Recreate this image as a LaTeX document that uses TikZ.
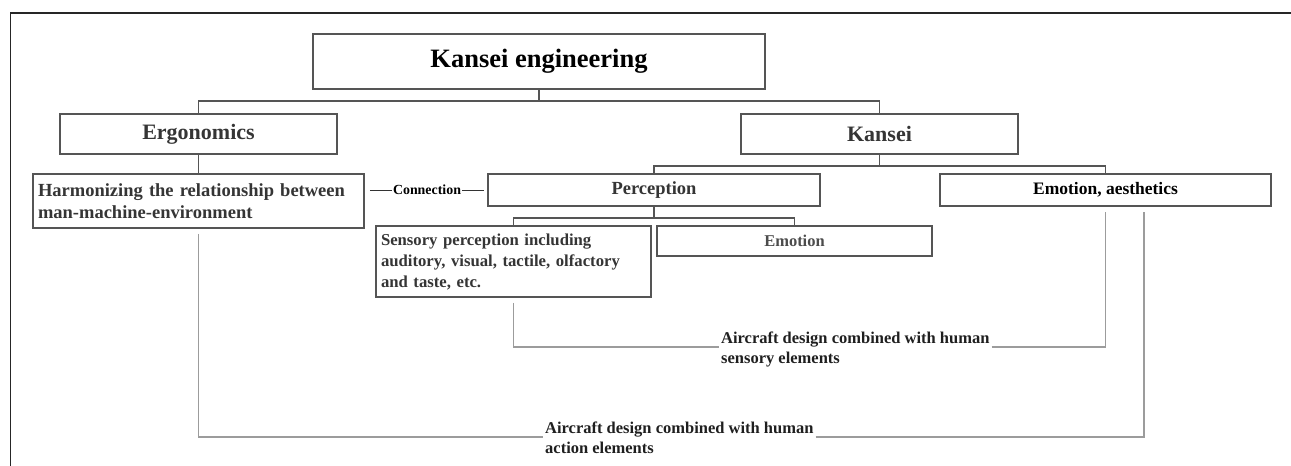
\documentclass[tikz,border=0pt]{standalone}
\usepackage{fontspec}
\setmainfont{Liberation Serif}
\usetikzlibrary{positioning}
\definecolor{boxline}{HTML}{555555}
\definecolor{boxtext}{HTML}{353535}
\definecolor{thinline}{HTML}{9C9C9C}

\begin{document}
\begin{tikzpicture}[x=1pt, y=-1pt,
    box/.style={draw=boxline, line width=1.8pt, inner sep=0pt, text=boxtext},
    tree/.style={draw=boxline, line width=1.5pt},
    link/.style={draw=thinline, line width=1.4pt},
    note/.style={font=\bfseries\fontsize{16.5}{20}\selectfont, text=black!88, align=left, inner sep=2pt}]
    \useasboundingbox (0,0) rectangle (1291,466);
    % frame
    \draw[line width=1.4pt, black!85] (1291,13) -- (10.5,13) -- (10.5,466);
    % boxes
    \node[box, minimum width=452pt, minimum height=55pt, text=black, font=\bfseries\fontsize{26.5}{31}\selectfont] (ke) at (539,61.5) {Kansei engineering};
    \node[box, minimum width=277pt, minimum height=40pt, font=\bfseries\fontsize{22}{26}\selectfont] (ergo) at (198.5,134) {Ergonomics};
    \node[box, minimum width=277pt, minimum height=40pt, font=\bfseries\fontsize{22}{26}\selectfont] (kansei) at (879.5,134) {Kansei};
    \node[box, minimum width=331pt, minimum height=54pt, text width=321pt, inner xsep=5pt, align=left, font=\bfseries\fontsize{18.5}{22}\selectfont] (harm) at (198.5,201) {Harmonizing the relationship between\\man-machine-environment};
    \node[box, minimum width=332pt, minimum height=32pt, font=\bfseries\fontsize{18.5}{22}\selectfont] (perc) at (654,190) {Perception};
    \node[box, minimum width=331pt, minimum height=32pt, text=black, font=\bfseries\fontsize{17.5}{21}\selectfont] (ea) at (1105.5,190) {Emotion, aesthetics};
    \node[box, minimum width=275pt, minimum height=71pt, text width=265pt, inner xsep=5pt, align=left, font=\bfseries\fontsize{16.7}{21}\selectfont] (sens) at (513.5,261.5) {Sensory perception including\\auditory, visual, tactile, olfactory\\and taste, etc.};
    \node[box, minimum width=275pt, minimum height=30pt, text=black!70, font=\bfseries\fontsize{16.5}{20}\selectfont] (emo) at (794.5,241) {Emotion};
    % tree
    \draw[tree] (ke.south) -- ++(0,11) coordinate (kej);
    \draw[tree] (ergo.north) |- (kej) -| (kansei.north);
    \draw[tree] (ergo.south) -- (harm.north);
    \draw[tree] (kansei.south) -- ++(0,11) coordinate (kaj);
    \draw[tree] (perc.north) |- (kaj) -| (ea.north);
    \draw[tree] (perc.south) -- ++(0,11) coordinate (pej);
    \draw[tree] (sens.north) |- (pej) -| (emo.north);
    \draw[line width=1pt, black!80] ([xshift=5pt]harm.east |- perc.west) -- node[fill=white, inner sep=1pt, text=black, font=\bfseries\fontsize{13.9}{16}\selectfont] (conn) {Connection} ([xshift=-3pt]perc.west);
    % design elements
    \node[note, anchor=west] (senstxt) at (719,349) {Aircraft design combined with human\\sensory elements};
    \node[note, anchor=west] (acttxt) at (543,438) {Aircraft design combined with human\\action elements};
    \draw[link] ([yshift=-5pt]sens.south) |- ([yshift=2pt]senstxt.west);
    \draw[link] ([yshift=2pt]senstxt.east) -| ([yshift=-5pt]ea.south);
    \draw[link] ([yshift=-5pt]harm.south) |- ([yshift=1pt]acttxt.west);
    \draw[link] ([yshift=1pt]acttxt.east) -| ([xshift=38.5pt, yshift=-5pt]ea.south);
\end{tikzpicture}
\end{document}
